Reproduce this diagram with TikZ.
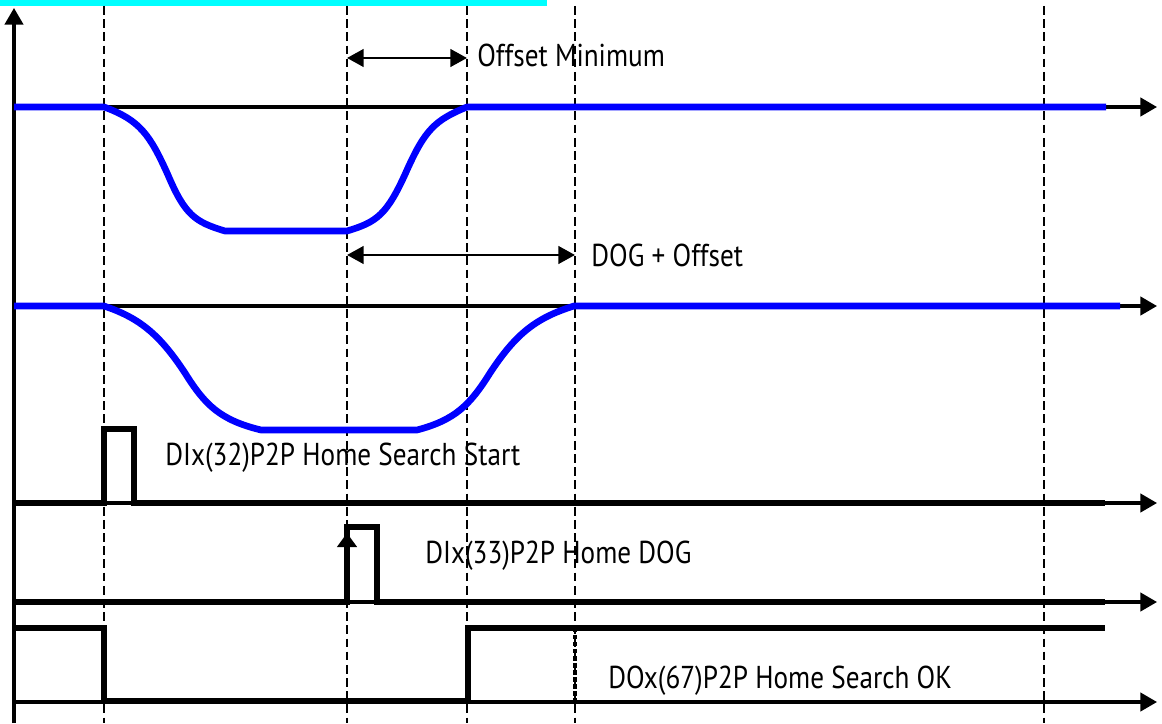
\documentclass[tikz,border=0pt]{standalone}
\usepackage{fontspec}
\setmainfont{PT Sans}
\usepackage{graphicx}
\usetikzlibrary{arrows.meta}
\definecolor{ctrace}{RGB}{0,0,255}
\definecolor{cbar}{RGB}{0,255,255}
\newcommand{\sigtext}[1]{\scalebox{0.86}[1]{#1}}

\begin{document}
\begin{tikzpicture}[x=0.02cm,y=-0.02cm,font=\fontsize{18}{20}\selectfont,
   guide/.style={line width=1.1pt,dash pattern=on 5pt off 2.5pt},
   axis/.style={line width=1.8pt,-{Triangle[length=9.5pt,width=10.5pt]}},
   trace/.style={line width=3.8pt,ctrace,line join=round},
   pulse/.style={line width=3.2pt,line join=miter},
   dim/.style={line width=1.6pt,{Triangle[length=9.5pt,width=10pt]}-{Triangle[length=9.5pt,width=10pt]}},
   lbl/.style={anchor=base west,inner sep=0pt}]
  \useasboundingbox (0,0) rectangle (1162,723);
  \fill[cbar] (0,0) rectangle (547,6);
  \coordinate (o) at (14,723);
  \coordinate (ytop) at (14,8);
  \foreach \x/\n in {104/a,347/b,467/c,575/d,1044/e}{
    \coordinate (t\n) at (\x,6);
    \draw[guide] (t\n) -- (\x,723);
  }
  \draw[axis] (o) -- (ytop);
  \foreach \y in {107,306,503,602,702}
    \draw[axis] (14,\y) -- (1157,\y);
  \draw[trace] (14,107) -- (104,107) .. controls (140,120) and (150,135) .. (168,175)
    .. controls (185,215) and (195,222) .. (225,231) -- (347,231)
    .. controls (377,222) and (387,215) .. (407,170)
    .. controls (425,130) and (435,120) .. (467,107) -- (1106,107);
  \draw[trace] (14,306) -- (104,306) .. controls (140,318) and (160,335) .. (185,373)
    .. controls (205,405) and (220,420) .. (261,430) -- (417,430)
    .. controls (455,420) and (470,405) .. (490,373)
    .. controls (515,335) and (535,318) .. (574,306) -- (1120,306);
  \draw[pulse] (14,503) -- (104,503) -- (104,429) -- (134,429) -- (134,503) -- (1105,503);
  \draw[pulse] (14,602) -- (347,602) -- (347,527) -- (377,527) -- (377,602) -- (1105,602);
  \draw[line width=3.2pt,-{Triangle[length=8pt,width=11pt]}] (347,602) -- (347,533);
  \draw[pulse] (14,628) -- (104,628) -- (104,701) -- (468,701) -- (468,628) -- (1105,628);
  \draw[line width=2.8pt,dash pattern=on 2.5pt off 1.5pt] (575,628) -- (575,701);
  \coordinate (om1) at (347,58);
  \coordinate (om2) at (467,58);
  \coordinate (do1) at (347,255);
  \coordinate (do2) at (575,255);
  \draw[dim] (om1) -- (om2);
  \draw[dim] (do1) -- (do2);
  \node[lbl] (offmin) at (477,67) {\sigtext{Offset Minimum}};
  \node[lbl] (dogoff) at (591,266) {\sigtext{DOG + Offset}};
  \node[lbl] (startlbl) at (165,465) {\sigtext{DIx(32)P2P Home Search Start}};
  \node[lbl] (doglbl) at (425,563) {\sigtext{DIx(33)P2P Home DOG}};
  \node[lbl] (oklbl) at (608,688) {\sigtext{DOx(67)P2P Home Search OK}};
\end{tikzpicture}
\end{document}
